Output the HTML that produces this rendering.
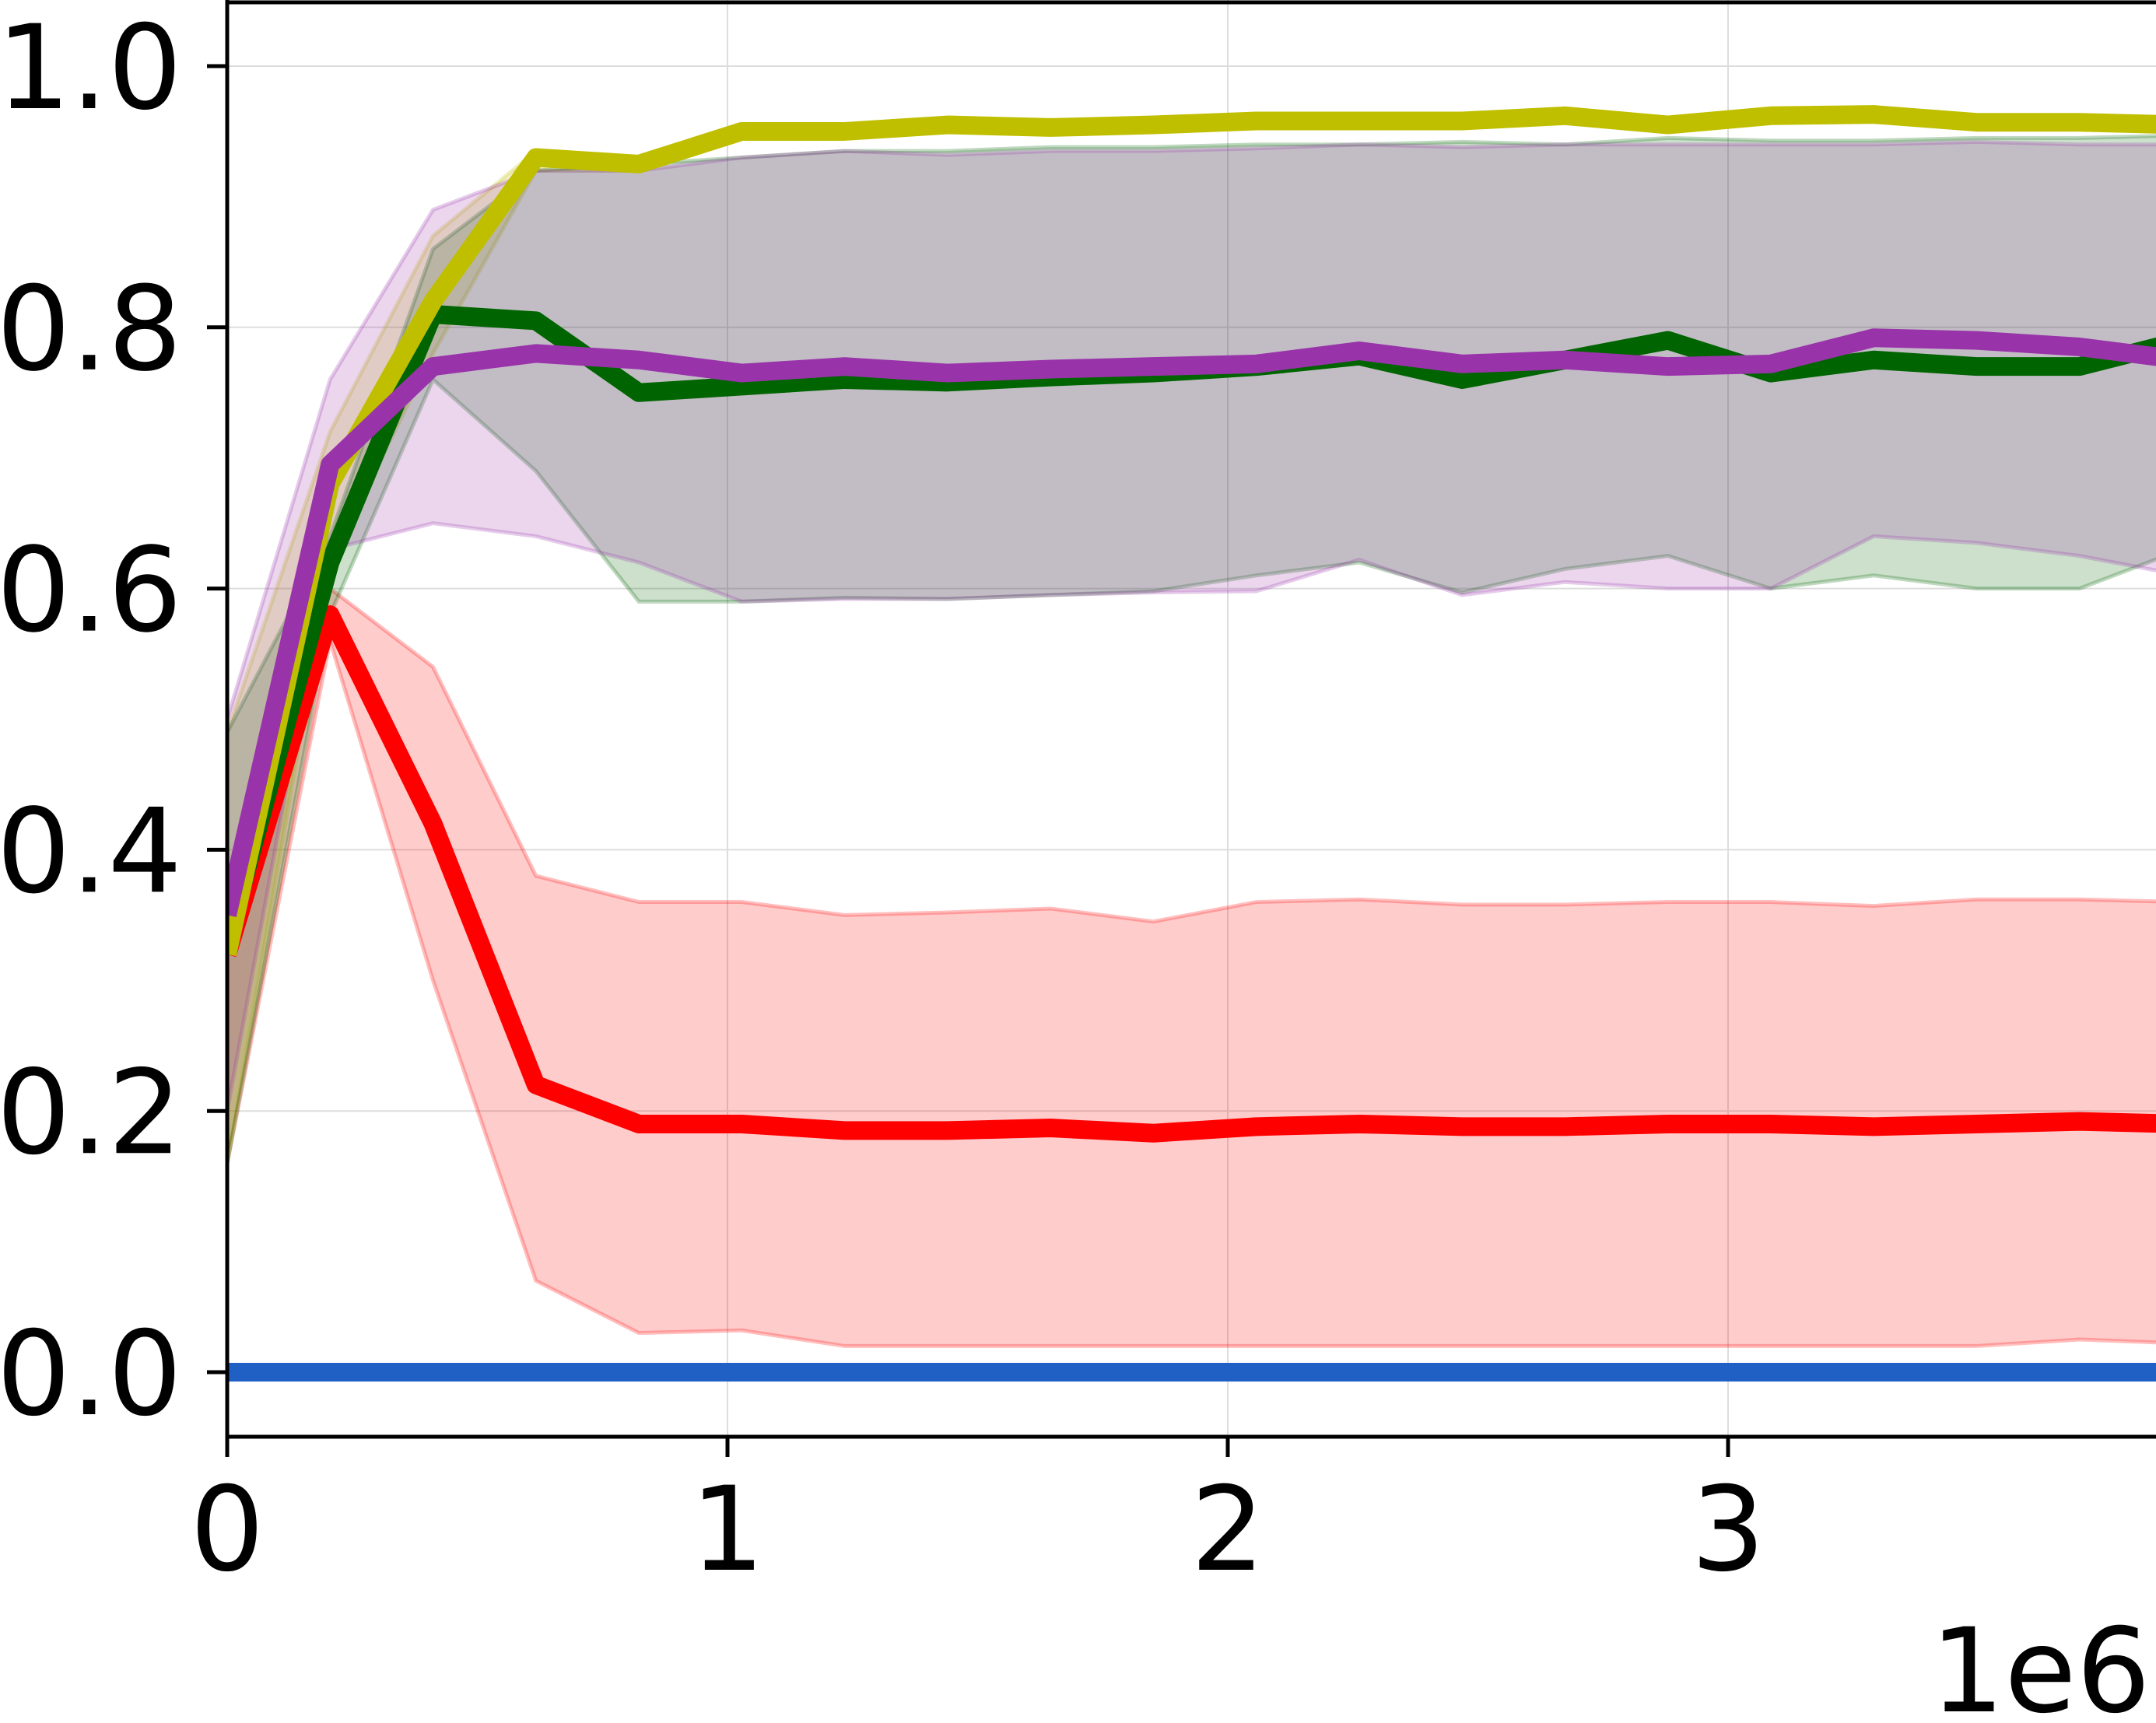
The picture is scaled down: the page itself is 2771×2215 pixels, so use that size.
<!DOCTYPE html>
<html><head><meta charset="utf-8"><style>
html,body{margin:0;padding:0;background:#fff;}
svg{display:block;font-family:"DejaVu Sans","Liberation Sans",sans-serif;}
</style></head><body>
<svg id="chart" width="2771" height="2215" viewBox="0 0 2771 2215" xmlns="http://www.w3.org/2000/svg">
<defs><clipPath id="plotclip"><rect x="292" y="0" width="2479" height="1847"/></clipPath></defs>
<g id="grid"></g>
<g id="plot" clip-path="url(#plotclip)"></g>
<g id="axes"></g>
</svg>
<script>
const steps = [0,1,2,3,4,5,6,7,8,9,10,11,12,13,14,15,16,17,18,19];
const stepSize = 0.2057e6;
const xTicks = [0,1,2,3];
const xTickLabels = ["0","1","2","3"];
const yTicks = [0,0.2,0.4,0.6,0.8,1.0];
const yTickLabels = ["0.0","0.2","0.4","0.6","0.8","1.0"];

const yellowMean = [0.32,0.68,0.82,0.93,0.925,0.95,0.95,0.955,0.953,0.955,0.958,0.958,0.958,0.962,0.955,0.962,0.963,0.957,0.957,0.955];
const yellowUp   = [0.49,0.72,0.87,0.935,0.93,0.953,0.953,0.958,0.956,0.958,0.961,0.961,0.961,0.965,0.958,0.965,0.966,0.96,0.96,0.958];
const yellowLo   = [0.16,0.62,0.78,0.92,0.92,0.947,0.947,0.952,0.95,0.952,0.955,0.955,0.955,0.959,0.952,0.959,0.96,0.954,0.954,0.952];

const greenMean = [0.33,0.62,0.81,0.805,0.75,0.755,0.76,0.758,0.762,0.765,0.77,0.778,0.76,0.775,0.79,0.765,0.775,0.77,0.77,0.79];
const greenUp   = [0.49,0.64,0.86,0.92,0.925,0.93,0.935,0.935,0.938,0.938,0.94,0.94,0.942,0.94,0.945,0.943,0.943,0.945,0.945,0.947];
const greenLo   = [0.16,0.58,0.76,0.69,0.59,0.59,0.593,0.592,0.595,0.598,0.61,0.62,0.597,0.615,0.625,0.6,0.61,0.6,0.6,0.63];

const purpleMean = [0.35,0.695,0.77,0.78,0.775,0.765,0.77,0.765,0.768,0.77,0.772,0.782,0.772,0.775,0.77,0.772,0.792,0.79,0.785,0.775];
const purpleUp   = [0.5,0.76,0.89,0.92,0.92,0.93,0.935,0.932,0.935,0.935,0.937,0.94,0.938,0.94,0.94,0.94,0.94,0.942,0.94,0.94];
const purpleLo   = [0.2,0.63,0.65,0.64,0.62,0.59,0.592,0.592,0.595,0.597,0.598,0.622,0.595,0.605,0.6,0.6,0.64,0.635,0.625,0.61];

const redMean = [0.32,0.58,0.42,0.22,0.19,0.19,0.185,0.185,0.187,0.183,0.188,0.19,0.188,0.188,0.19,0.19,0.188,0.19,0.192,0.19];
const redUp   = [0.35,0.6,0.54,0.38,0.36,0.36,0.35,0.352,0.355,0.345,0.36,0.362,0.358,0.358,0.36,0.36,0.357,0.362,0.362,0.36];
const redLo   = [0.16,0.56,0.3,0.07,0.03,0.032,0.02,0.02,0.02,0.02,0.02,0.02,0.02,0.02,0.02,0.02,0.02,0.02,0.025,0.022];

const blueMean = [0,0,0,0,0,0,0,0,0,0,0,0,0,0,0,0,0,0,0,0];

const NS='http://www.w3.org/2000/svg';
function X(v){return 292 + v/1e6*643;}
function Y(v){return 1764 - v*1679;}
function mk(tag,attrs,parent){const e=document.createElementNS(NS,tag);for(const k in attrs)e.setAttribute(k,attrs[k]);parent.appendChild(e);return e;}
const grid=document.getElementById('grid'),plot=document.getElementById('plot'),axes=document.getElementById('axes');

yTicks.forEach((t,i)=>{
  const l=mk('line',{x1:292,x2:2771,y1:Y(t),y2:Y(t),stroke:'#dddddd','stroke-width':2},grid);
  
  
  const tk=mk('line',{x1:266,x2:292,y1:Y(t),y2:Y(t),stroke:'#000','stroke-width':5},axes);
  
  
  const tx=mk('text',{x:234,y:Y(t)+54,'text-anchor':'end','font-size':150,fill:'#000'},axes);
  tx.textContent=yTickLabels[i];
  
  
});
xTicks.forEach((t,i)=>{
  const l=mk('line',{x1:X(t*1e6),x2:X(t*1e6),y1:0,y2:1847,stroke:'#dddddd','stroke-width':2},grid);
  
  
  const tk=mk('line',{x1:X(t*1e6),x2:X(t*1e6),y1:1847,y2:1873,stroke:'#000','stroke-width':5},axes);
  
  
  const tx=mk('text',{x:X(t*1e6),y:2018,'text-anchor':'middle','font-size':150,fill:'#000'},axes);
  tx.textContent=xTickLabels[i];
  
  
});
const off=mk('text',{x:2764,y:2200,'text-anchor':'end','font-size':150,fill:'#000'},axes);
off.textContent='1e6';



function band(up,lo,color,name){
  let d='M'+steps.map(i=>X(i*stepSize)+','+Y(up[i])).join('L');
  d+='L'+steps.slice().reverse().map(i=>X(i*stepSize)+','+Y(lo[i])).join('L')+'Z';
  const p=mk('path',{d:d,fill:color,'fill-opacity':0.2,stroke:color,'stroke-opacity':0.25,'stroke-width':5},plot);
  
  
}
function line(vals,color,name){
  const pts=steps.map(i=>X(i*stepSize)+','+Y(vals[i])).join(' ');
  const p=mk('polyline',{points:pts,fill:'none',stroke:color,'stroke-width':24,'stroke-linejoin':'round'},plot);
  
  
}
band(redUp,redLo,'#ff0000','red-band');
band(yellowUp,yellowLo,'#bfbf00','yellow-band');
band(greenUp,greenLo,'#006400','green-band');
band(purpleUp,purpleLo,'#9933aa','purple-band');
line(blueMean,'#2060c4','blue-line');
line(redMean,'#ff0000','red-line');
line(greenMean,'#006400','green-line');
line(yellowMean,'#bfbf00','yellow-line');
line(purpleMean,'#9933aa','purple-line');

const sp1=mk('line',{x1:292,x2:292,y1:0,y2:1849,stroke:'#000','stroke-width':5},axes);


const sp2=mk('line',{x1:290,x2:2771,y1:1847,y2:1847,stroke:'#000','stroke-width':5},axes);


const sp3=mk('line',{x1:290,x2:2771,y1:3,y2:3,stroke:'#000','stroke-width':5},axes);


</script>
</body></html>
